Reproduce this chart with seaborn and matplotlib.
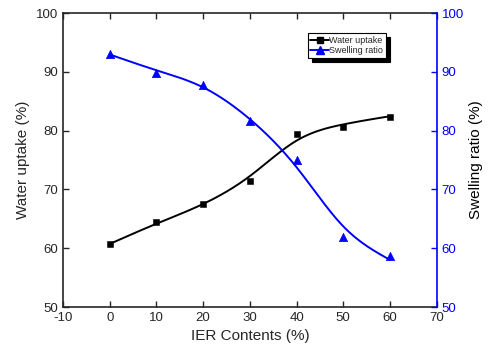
import numpy as np
import pandas as pd
import matplotlib
matplotlib.use("Agg")
import matplotlib.pyplot as plt
import seaborn as sns
from matplotlib.lines import Line2D

# IER content (%) and measured values
ier_content = [0, 10, 20, 30, 40, 50, 60]
water_uptake = [60.7, 64.4, 67.5, 71.4, 79.5, 80.7, 82.4]
swelling_ratio = [93.0, 89.9, 87.8, 81.7, 75.0, 62.0, 58.7]

sns.set_style("ticks")
plt.rcParams['font.family'] = ['Liberation Sans', 'DejaVu Sans']
plt.rcParams['axes.unicode_minus'] = False


def smooth_curve(x, y, p, step=0.1):
    # penalised least squares on a fine grid ~ cubic smoothing spline
    xs = np.arange(x[0], x[-1] + step / 2, step)
    n = len(xs)
    W = np.zeros(n)
    target = np.zeros(n)
    for xi, yi in zip(x, y):
        k = int(round((xi - x[0]) / step))
        W[k] = 1.0
        target[k] = yi
    D = np.diff(np.eye(n), 2, axis=0)
    lam = p / step ** 3
    z = np.linalg.solve(np.diag(W) + lam * D.T @ D, W * target)
    return xs, z


df = pd.DataFrame({"x": ier_content, "wu": water_uptake, "sr": swelling_ratio})
xs, wu_fit = smooth_curve(ier_content, water_uptake, 90.0)
_, sr_fit = smooth_curve(ier_content, swelling_ratio, 90.0)
curve = pd.DataFrame({"x": xs, "wu": wu_fit, "sr": sr_fit})

fig = plt.figure(figsize=(4.89, 3.55), dpi=100)
ax = fig.add_axes([0.129, 0.135, 0.764, 0.828])
ax2 = ax.twinx()

blue = "#0000ff"
sns.lineplot(data=curve, x="x", y="wu", ax=ax, color="black", lw=1.4)
sns.scatterplot(data=df, x="x", y="wu", ax=ax, color="black", marker="s", s=24, edgecolor="black", zorder=3)
sns.lineplot(data=curve, x="x", y="sr", ax=ax2, color=blue, lw=1.4)
sns.scatterplot(data=df, x="x", y="sr", ax=ax2, color=blue, marker="^", s=36, edgecolor=blue, zorder=3)

ax.set_xlim(-10, 70)
ax.set_ylim(50, 100)
ax2.set_ylim(50, 100)
ax.set_xticks(range(-10, 71, 10))
ax.set_yticks(range(50, 101, 10))
ax2.set_yticks(range(50, 101, 10))

ax.set_xlabel("IER Contents (%)", fontsize=11)
ax.set_ylabel("Water uptake (%)", fontsize=11)
ax2.set_ylabel("Swelling ratio (%)", fontsize=11, color="black")

ax.tick_params(axis="both", direction="in", labelsize=9.5, length=4, width=1, top=True)
ax.tick_params(axis="y", right=False)
ax2.tick_params(axis="y", direction="in", labelsize=9.5, length=4, width=1, colors=blue)
for sp in ["left", "bottom", "top"]:
    ax.spines[sp].set_linewidth(1.2)
    ax2.spines[sp].set_visible(False)
ax.spines["right"].set_visible(False)
ax2.spines["right"].set_color(blue)
ax2.spines["right"].set_linewidth(1.2)

handles = [
    Line2D([], [], color="black", marker="s", markersize=4.5, lw=1.4),
    Line2D([], [], color=blue, marker="^", markersize=5.5, lw=1.4),
]
leg = ax.legend(handles, ["Water uptake", "Swelling ratio"], loc="upper left",
                bbox_to_anchor=(0.655, 0.932), borderaxespad=0, fontsize=6.5, frameon=True,
                fancybox=False, edgecolor="black", handlelength=2.0, handletextpad=0.1,
                borderpad=0.3, labelspacing=0.15,
                shadow={"color": "black", "alpha": 1, "ox": 3, "oy": -3})
leg.get_frame().set_linewidth(0.8)

fig.savefig("out.png", dpi=100)
